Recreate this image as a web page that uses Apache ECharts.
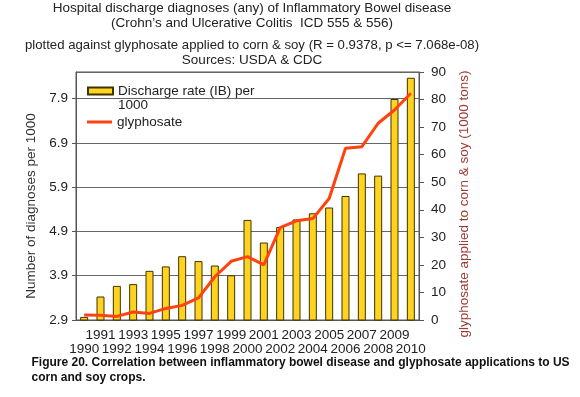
<!DOCTYPE html>
<html><head><meta charset="utf-8">
<script src="https://cdn.jsdelivr.net/npm/echarts@6/dist/echarts.min.js"></script>
<style>html,body{margin:0;padding:0;background:#fff}#c{width:580px;height:397px}</style>
</head><body><div id="c"></div>
<script>
const years = ['1990','1991','1992','1993','1994','1995','1996','1997','1998','1999','2000','2001','2002','2003','2004','2005','2006','2007','2008','2009','2010'];
const dischargeRate = [2.97,3.43,3.67,3.71,4.01,4.11,4.34,4.23,4.13,3.91,5.16,4.65,5.00,5.17,5.31,5.44,5.70,6.21,6.16,7.89,8.37];
const glyphosate = [1.8,1.7,1.3,2.9,2.4,4.2,5.3,8.0,15.7,21.3,23.0,20.0,33.5,36.0,36.8,44.1,62.3,62.9,71.4,76.2,82.3];
const leftAxisRange = [2.9, 8.5, 1];
const rightAxisRange = [0, 90, 10];
const titleLines = [
  'Hospital discharge diagnoses (any) of Inflammatory Bowel disease',
  '(Crohn\u2019s and Ulcerative Colitis  ICD 555 & 556)',
  'plotted against glyphosate applied to corn & soy (R = 0.9378, p <= 7.068e-08)',
  'Sources: USDA & CDC'
];
const captionLines = [
  'Figure 20. Correlation between inflammatory bowel disease and glyphosate applications to US',
  'corn and soy crops.'
];
const seriesNames = ['Discharge rate (IB) per\n1000', 'glyphosate'];
const axisNames = ['Number of diagnoses per 1000', 'glyphosate applied to corn & soy (1000 tons)'];

const FF = '"Liberation Sans", Arial, sans-serif';
const FS = 13.5;
const chart = echarts.init(document.getElementById('c'), null, {renderer: 'canvas'});
const titleY = [8.5, 23.5, 45, 60];
const titleFS = [13.5, 13.5, 13.2, 13.5];
const graphics = titleLines.map((t, i) => ({
  type: 'text', x: 252, y: titleY[i],
  style: {text: t, fontFamily: FF, fontSize: titleFS[i], fill: '#222', align: 'center', verticalAlign: 'middle'}
}));
const capY = [363, 378];
captionLines.forEach((t, i) => graphics.push({
  type: 'text', x: 31.5, y: capY[i],
  style: {text: t, fontFamily: FF, fontSize: 12, fontWeight: 'bold', fill: '#111', align: 'left', verticalAlign: 'middle'}
}));

const legendText = {fontFamily: FF, fontSize: FS, color: '#222', lineHeight: 14};
chart.setOption({
  animation: false,
  backgroundColor: '#fff',
  textStyle: {fontFamily: FF},
  graphic: graphics,
  grid: {left: 76, right: 161, top: 72, bottom: 77, show: true, borderColor: '#555', borderWidth: 1, backgroundColor: 'transparent'},
  legend: [
    {
      orient: 'vertical', left: 87, top: 70, padding: 0,
      itemWidth: 25, itemHeight: 7,
      data: [{name: seriesNames[0], icon: 'rect'}],
      formatter: n => '\n' + n,
      textStyle: legendText
    },
    {
      orient: 'vertical', left: 87, top: 115, padding: 0,
      itemWidth: 25, itemHeight: 3,
      data: [{name: seriesNames[1], icon: 'rect'}],
      itemStyle: {color: '#ff420e', borderWidth: 0},
      textStyle: legendText
    }
  ],
  xAxis: {
    type: 'category', data: years,
    axisLine: {lineStyle: {color: '#555'}},
    axisTick: {length: 4, lineStyle: {color: '#555'}},
    axisLabel: {
      interval: 0, margin: 8, fontFamily: FF, fontSize: FS, color: '#222', lineHeight: 14.5,
      formatter: (v, i) => (i % 2 === 1 ? v : '\n' + v)
    }
  },
  yAxis: [
    {
      type: 'value', min: leftAxisRange[0], max: leftAxisRange[1], interval: leftAxisRange[2],
      name: axisNames[0], nameLocation: 'middle', nameGap: 30,
      nameTextStyle: {fontFamily: FF, fontSize: FS, color: '#333', padding: [0, 20, 0, 0]},
      axisLine: {show: true, lineStyle: {color: '#555'}},
      axisTick: {show: true, length: 4, lineStyle: {color: '#555'}},
      axisLabel: {fontFamily: FF, fontSize: FS, color: '#222', margin: 8, showMaxLabel: false,
        formatter: v => v.toFixed(1)},
      splitLine: {show: true, lineStyle: {color: '#666', width: 1}}
    },
    {
      type: 'value', min: rightAxisRange[0], max: rightAxisRange[1], interval: rightAxisRange[2],
      position: 'right',
      name: axisNames[1], nameLocation: 'middle', nameGap: 32,
      nameTextStyle: {fontFamily: FF, fontSize: FS, color: '#9e3a34', padding: [0, 16, 0, 0]},
      axisLine: {show: true, lineStyle: {color: '#555'}},
      axisTick: {show: true, length: 5, lineStyle: {color: '#555'}},
      axisLabel: {fontFamily: FF, fontSize: FS, color: '#222', margin: 12},
      splitLine: {show: false}
    }
  ],
  series: [
    {
      name: seriesNames[0], type: 'bar', yAxisIndex: 0, data: dischargeRate, barWidth: 8,
      itemStyle: {color: '#ffd320', borderColor: '#3f3300', borderWidth: 1}
    },
    {
      name: seriesNames[1], type: 'line', yAxisIndex: 1, data: glyphosate,
      symbol: 'none', lineStyle: {color: '#ff420e', width: 3}, itemStyle: {color: '#ff420e'}, z: 5
    }
  ]
});
</script></body></html>
